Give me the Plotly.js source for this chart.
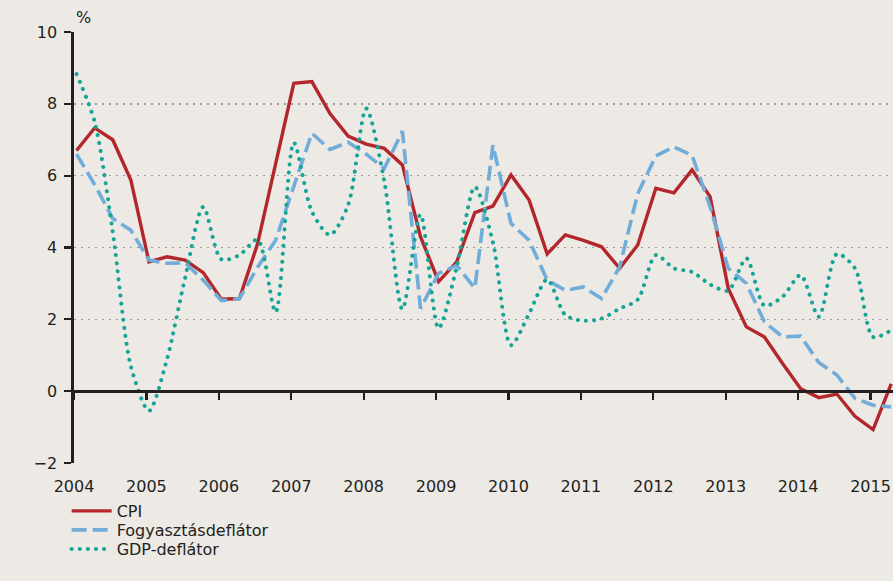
<!DOCTYPE html>
<html>
<head>
<meta charset="utf-8">
<script src="https://cdn.plot.ly/plotly-3.0.1.min.js"></script>
<style>html,body{margin:0;padding:0;background:#ede9e5;}#chart{width:893px;height:581px;}</style>
</head>
<body>
<div id="chart"></div>
<script>
// Quarterly observations, 2004 Q1 – 2015 Q2
const quarters = [
 '2004Q1','2004Q2','2004Q3','2004Q4','2005Q1','2005Q2','2005Q3','2005Q4',
 '2006Q1','2006Q2','2006Q3','2006Q4','2007Q1','2007Q2','2007Q3','2007Q4',
 '2008Q1','2008Q2','2008Q3','2008Q4','2009Q1','2009Q2','2009Q3','2009Q4',
 '2010Q1','2010Q2','2010Q3','2010Q4','2011Q1','2011Q2','2011Q3','2011Q4',
 '2012Q1','2012Q2','2012Q3','2012Q4','2013Q1','2013Q2','2013Q3','2013Q4',
 '2014Q1','2014Q2','2014Q3','2014Q4','2015Q1','2015Q2'];

const cpi = [6.7,7.33,7.0,5.88,3.6,3.74,3.65,3.3,2.56,2.58,4.1,6.35,8.57,8.62,7.73,7.1,
 6.88,6.76,6.3,4.3,3.05,3.6,4.97,5.15,6.02,5.32,3.82,4.35,4.2,4.02,3.42,4.07,
 5.65,5.52,6.16,5.41,2.86,1.79,1.51,0.77,0.07,-0.18,-0.08,-0.7,-1.07,0.2];

const fogyasztasDeflator = [6.6,5.75,4.81,4.48,3.65,3.56,3.57,3.09,2.52,2.58,3.45,4.2,5.7,7.18,6.73,6.93,
 6.6,6.2,7.24,2.3,3.28,3.5,2.87,6.85,4.67,4.2,3.09,2.81,2.9,2.58,3.46,5.5,
 6.55,6.8,6.57,5.13,3.42,3.0,1.93,1.51,1.53,0.8,0.45,-0.2,-0.39,-0.44];

const gdpDeflator = [8.83,7.5,4.44,0.7,-0.55,0.9,3.16,5.13,3.67,3.79,4.22,2.2,6.92,5.0,4.35,5.18,
 7.87,5.85,2.28,4.92,1.75,3.46,5.69,4.15,1.28,2.16,3.11,2.12,1.96,2.02,2.3,2.55,
 3.79,3.42,3.32,2.97,2.8,3.7,2.38,2.63,3.23,2.07,3.82,3.42,1.51,1.7];

const seriesNames = ['CPI','Fogyasztásdeflátor','GDP-deflátor'];
const yearTicks = [2004,2005,2006,2007,2008,2009,2010,2011,2012,2013,2014,2015];
const yTicks = [-2,0,2,4,6,8,10];

// quarter label -> decimal year position
const xq = quarters.map(q => +q.slice(0,4) + (+q.slice(5) - 1) * 0.25 + 0.035);

const FONT = '"DejaVu Sans", "Open Sans", sans-serif';
const TXT = '#231f20';
const BG = '#ede9e5';
const C_CPI = '#b3262b', C_FOGY = '#72acd9', C_GDP = '#16a595';
const XR = [2004, 2015.31];

const traces = [
 // carrier for the zero-level axis (x2): no visible marks
 {x: [], y: [], xaxis: 'x2', yaxis: 'y', type: 'scatter', mode: 'lines', showlegend: false, hoverinfo: 'skip'},
 {x: xq, y: cpi, name: seriesNames[0], type: 'scatter', mode: 'lines',
  line: {color: C_CPI, width: 3.4}, legend: 'legend'},
 {x: xq, y: fogyasztasDeflator, name: seriesNames[1], type: 'scatter', mode: 'lines',
  line: {color: C_FOGY, width: 3.6, dash: '15px,6px'}, legend: 'legend2'},
 {x: xq, y: gdpDeflator, name: seriesNames[2], type: 'scatter', mode: 'lines',
  line: {color: C_GDP, width: 4, dash: '0.1px,8px', shape: 'spline', smoothing: 0.8}, legend: 'legend3'}
];

function leg(yv) {
  return {x: -0.009, xanchor: 'left', y: yv, yanchor: 'middle', bgcolor: 'rgba(0,0,0,0)',
          font: {family: FONT, size: 16, color: TXT}, itemwidth: 40, borderwidth: 0};
}

const layout = {
  width: 893, height: 581,
  margin: {l: 74, r: 0, t: 32, b: 118, pad: 0},
  paper_bgcolor: BG, plot_bgcolor: BG,
  font: {family: FONT, size: 16, color: TXT},
  showlegend: true,
  legend: leg((463 - 511) / 431),
  legend2: leg((463 - 530) / 431),
  legend3: leg((463 - 549) / 431),
  xaxis: {range: XR, tickvals: yearTicks, ticktext: yearTicks.map(String),
          showgrid: false, zeroline: false, showline: false, ticks: '',
          ticklabelstandoff: 12, tickfont: {family: FONT, size: 16, color: TXT}},
  xaxis2: {overlaying: 'x', anchor: 'free', position: 1/6, side: 'bottom', range: XR,
           tickvals: yearTicks, showticklabels: false, showgrid: false, zeroline: false,
           showline: true, linecolor: TXT, linewidth: 2.6,
           ticks: 'outside', ticklen: 7, tickwidth: 2.2, tickcolor: TXT},
  yaxis: {range: [-2, 10], tickvals: yTicks, showgrid: true, gridcolor: '#9b9b9b',
          gridwidth: 1.4, griddash: '2px,5px', zeroline: false,
          showline: true, linecolor: TXT, linewidth: 2.6,
          ticks: 'outside', ticklen: 7, tickwidth: 2.2, tickcolor: TXT,
          ticklabelstandoff: 4, tickfont: {family: FONT, size: 16, color: TXT}},
  annotations: [{text: '%', xref: 'paper', yref: 'paper', x: 9/819, y: (463 - 18) / 431,
                 xanchor: 'center', yanchor: 'middle', showarrow: false,
                 font: {family: FONT, size: 16, color: TXT}}]
};

Plotly.newPlot('chart', traces, layout, {displayModeBar: false, staticPlot: true}).then(() => {
  // round caps for the dotted GDP line so the dots look round (also in the legend)
  document.querySelectorAll('#chart path').forEach(p => {
    const s = (p.style.stroke || '').replace(/\s/g, '');
    if (s === 'rgb(22,165,149)') p.style.strokeLinecap = 'round';
  });
});
</script>
</body>
</html>
